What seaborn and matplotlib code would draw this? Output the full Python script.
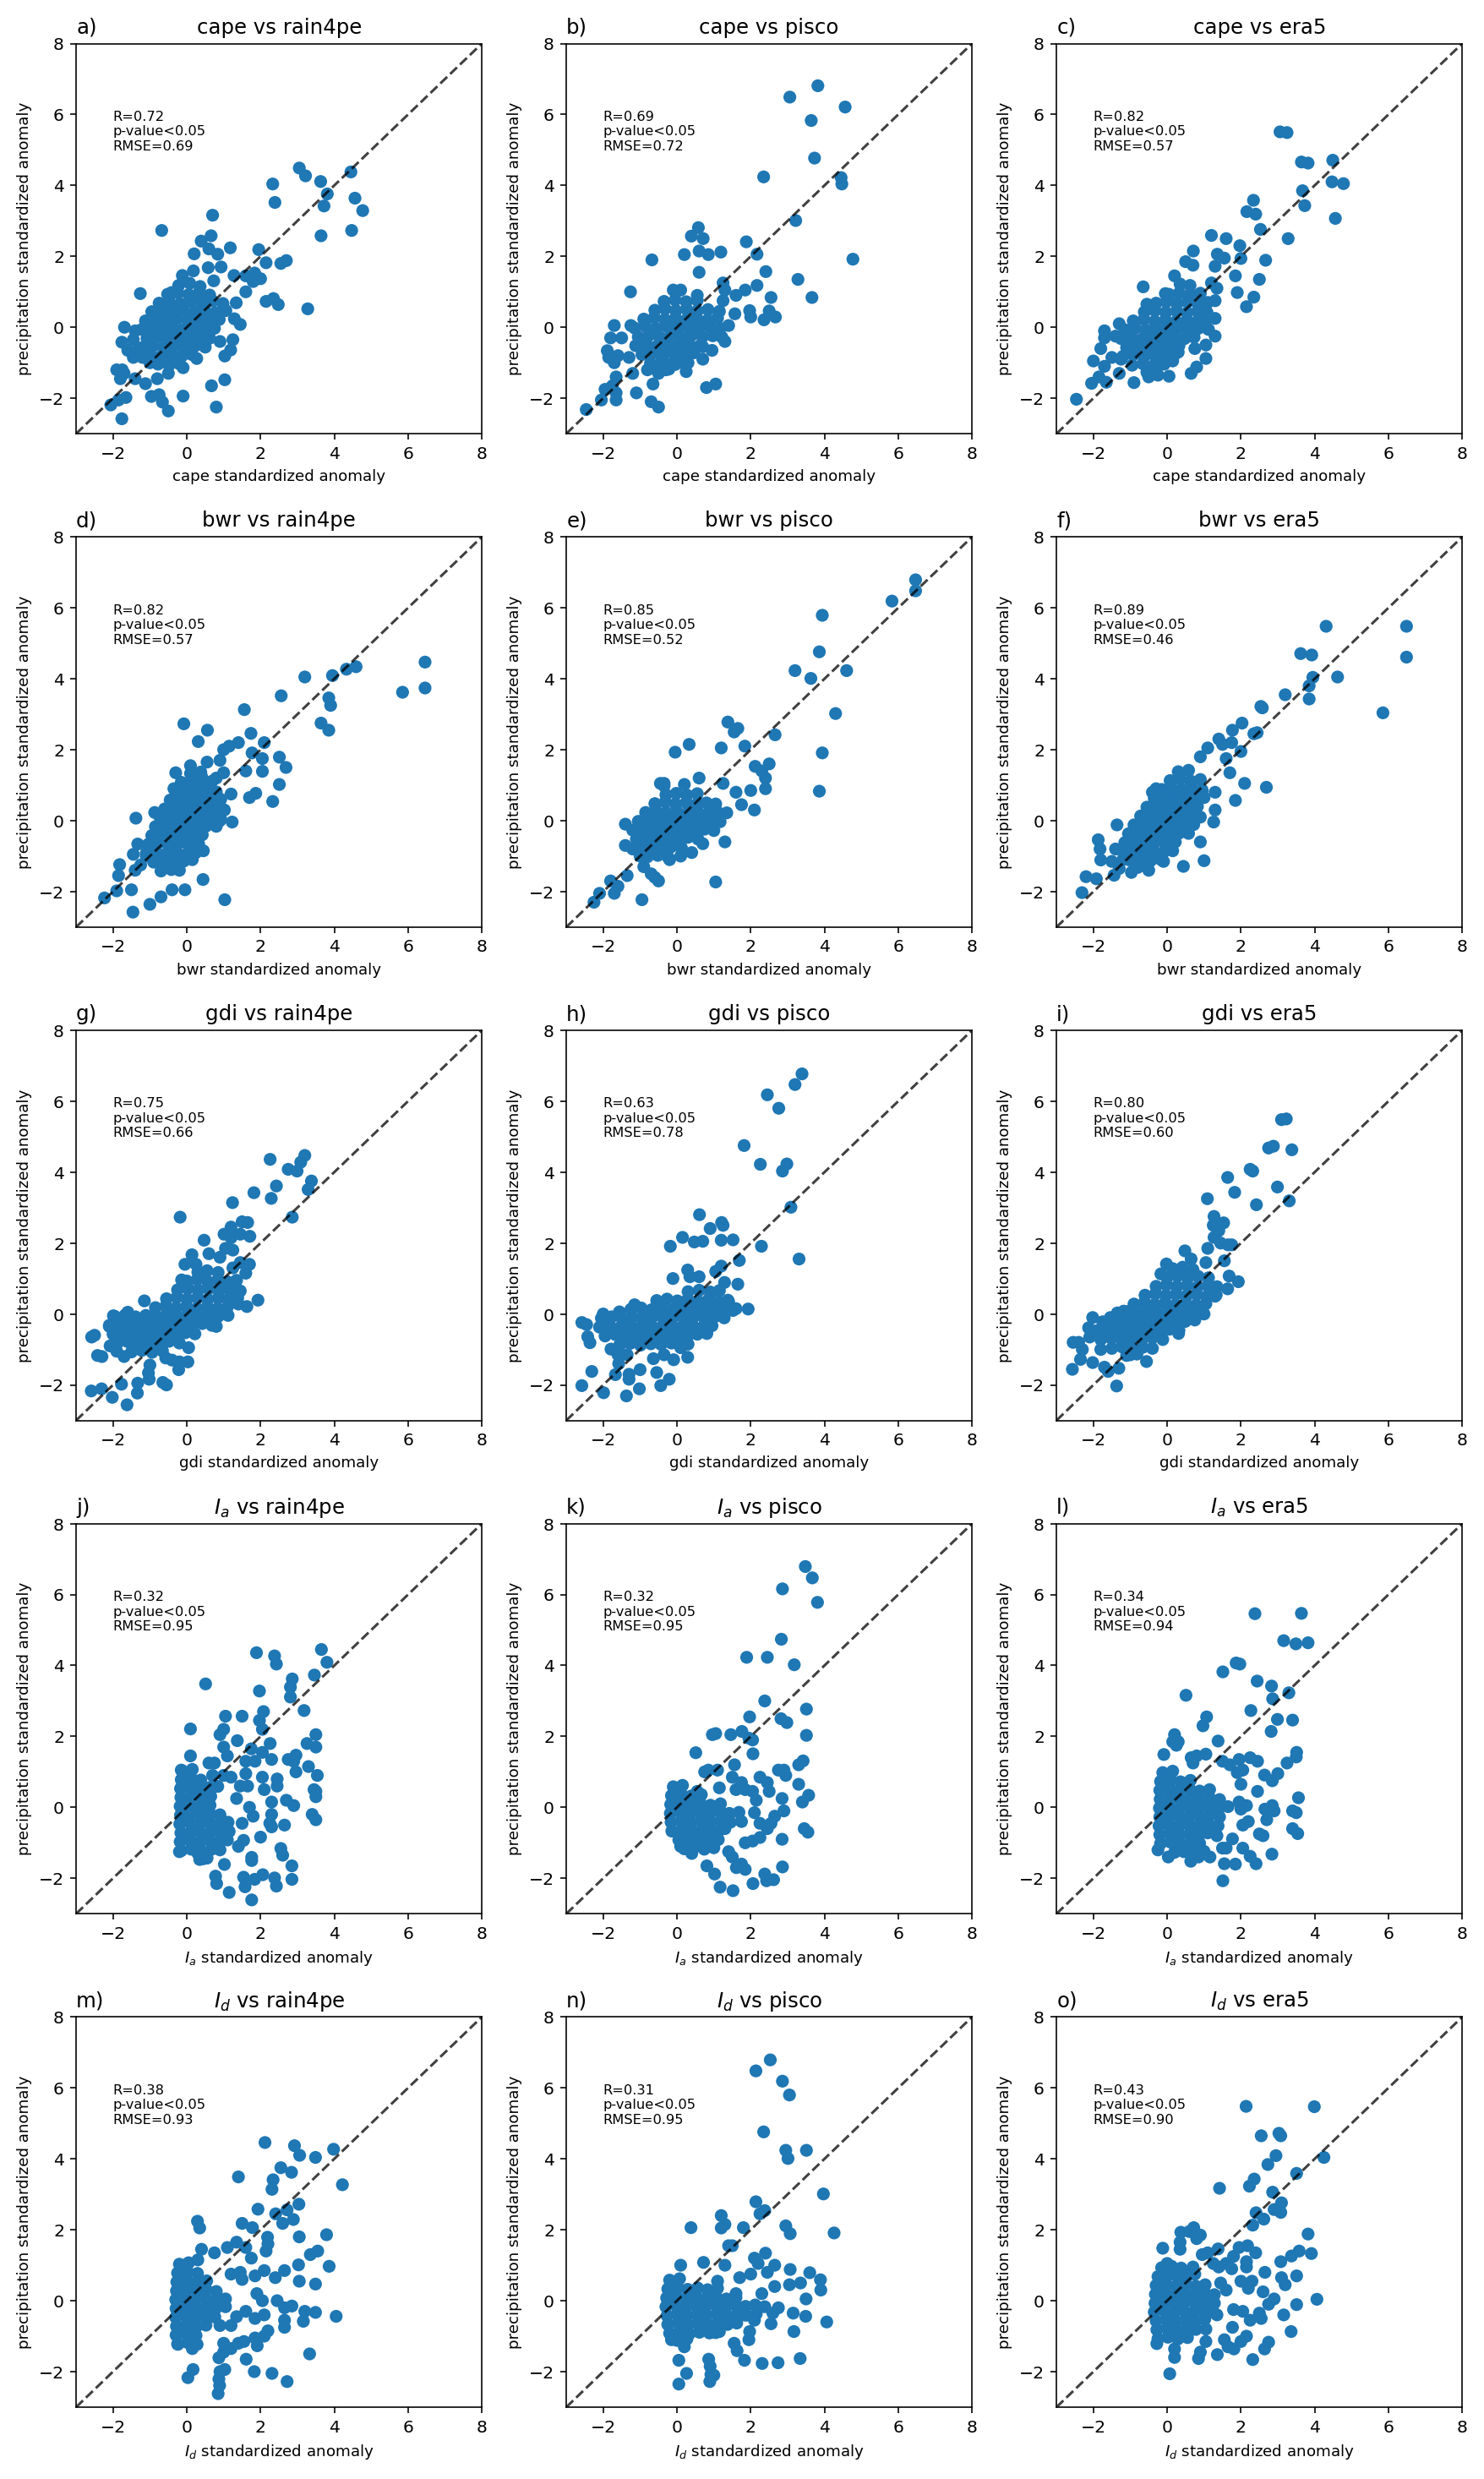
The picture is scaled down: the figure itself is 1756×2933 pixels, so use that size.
import matplotlib
matplotlib.use("Agg")
import matplotlib.pyplot as plt
import seaborn as sns
import pandas as pd

# ---------------- data (x = index anomaly, y = precipitation anomaly)
cape_rain4pe = [
    (3.05, 4.49), (3.22, 4.27), (2.33, 4.04), (2.39, 3.52), (3.63, 4.11), (3.81, 3.76), (3.72, 3.42),
    (4.45, 4.38), (4.56, 3.64), (4.77, 3.29), (4.47, 2.73), (3.64, 2.58), (0.70, 3.16), (-0.68, 2.73),
    (0.66, 2.58), (0.39, 2.43), (0.60, 2.21), (0.84, 2.06), (0.20, 2.07), (1.18, 2.24), (1.95, 2.19),
    (2.15, 1.82), (2.55, 1.80), (2.70, 1.88), (0.93, 1.70), (0.58, 1.68), (0.18, 1.59), (-0.12, 1.46),
    (0.73, 1.31), (1.28, 1.46), (1.60, 1.45), (1.84, 1.53), (1.80, 1.29), (2.00, 1.37), (1.60, 1.00),
    (-1.26, 0.95), (-0.41, 0.98), (2.15, 0.73), (2.35, 0.81), (2.48, 0.64), (3.28, 0.52), (1.34, 0.69),
    (1.45, 0.08), (1.29, 0.24), (1.25, -0.35), (0.90, -0.40), (1.19, -0.64), (1.03, -0.81), (0.27, -0.88),
    (-0.10, -1.14), (1.03, -1.48), (0.67, -1.65), (-0.10, -1.94), (0.80, -2.25), (-0.96, -1.95),
    (-0.75, -1.90), (-0.66, -2.11), (-0.50, -2.36), (-0.50, -1.30), (-0.80, -1.45), (-1.12, -1.59),
    (-1.40, -1.45), (-1.75, -1.20), (-1.90, -1.20), (-1.80, -1.45), (-1.70, -1.30), (-2.06, -2.19),
    (-1.85, -2.05), (-1.65, -1.98), (-1.76, -2.58), (-1.69, 0.00), (-1.40, -0.10), (-1.45, -0.35),
    (-1.76, -0.42), (-1.60, -0.65), (-1.45, -0.85), (-1.20, -0.85), (-1.00, -1.00), (-1.30, -0.60),
    (-0.22, 1.18), (0.08, 1.24), (0.36, 1.15), (-0.52, 0.93), (-0.24, 0.97), (0.05, 0.92), (0.33, 0.98),
    (0.62, 0.91), (-0.75, 0.68), (-0.47, 0.72), (-0.18, 0.66), (0.12, 0.73), (0.41, 0.69), (0.70, 0.74),
    (0.98, 0.67), (-0.95, 0.44), (-0.66, 0.47), (-0.38, 0.42), (-0.09, 0.48), (0.21, 0.43), (0.50, 0.46),
    (0.78, 0.41), (1.06, 0.47), (-1.12, 0.18), (-0.83, 0.22), (-0.55, 0.17), (-0.27, 0.23), (0.03, 0.19),
    (0.32, 0.21), (0.61, 0.16), (0.88, 0.22), (-1.22, -0.06), (-0.95, -0.03), (-0.67, -0.08),
    (-0.38, -0.04), (-0.10, -0.07), (0.18, -0.02), (0.47, -0.06), (0.75, -0.03), (-1.08, -0.31),
    (-0.80, -0.28), (-0.52, -0.33), (-0.23, -0.29), (0.06, -0.32), (0.35, -0.27), (0.62, -0.31),
    (-1.18, -0.56), (-0.92, -0.53), (-0.63, -0.58), (-0.35, -0.54), (-0.06, -0.57), (0.23, -0.52),
    (0.50, -0.56), (-0.98, -0.79), (-0.70, -0.82), (-0.42, -0.78), (-0.13, -0.81), (0.14, -0.77),
    (-0.78, -1.04), (-0.48, -1.07), (-0.20, -1.03),
]

cape_pisco = [
    (3.82, 6.81), (3.06, 6.49), (4.56, 6.21), (3.64, 5.83), (3.73, 4.77), (2.35, 4.24), (4.45, 4.22),
    (4.47, 4.04), (3.22, 3.01), (4.77, 1.92), (3.28, 1.35), (3.66, 0.84), (1.88, 2.41), (2.17, 2.06),
    (2.41, 1.57), (2.17, 1.18), (2.55, 0.84), (2.50, 0.46), (2.36, 0.21), (2.67, 0.29), (1.97, 0.47),
    (2.00, 0.29), (1.57, 0.38), (1.40, 0.05), (1.30, -0.40), (0.58, 2.81), (0.39, 2.57), (0.71, 2.50),
    (0.60, 2.15), (0.85, 2.05), (0.20, 2.05), (1.19, 2.12), (-0.68, 1.90), (0.60, 1.55), (1.25, 1.25),
    (1.30, 1.05), (1.85, 1.05), (1.60, 0.90), (1.25, 0.75), (1.15, 0.45), (-0.10, 1.05), (0.10, 1.05),
    (0.55, 0.90), (-1.26, 1.00), (-1.70, 0.05), (-1.25, 0.05), (-1.80, -0.30), (-1.50, -0.30),
    (-1.89, -0.66), (-1.85, -0.85), (-1.70, -1.00), (-1.60, -0.80), (-1.30, -0.85), (-1.20, -1.30),
    (-1.65, -1.40), (-1.95, -1.75), (-1.75, -1.65), (-1.65, -1.85), (-1.65, -2.05), (-2.05, -2.05),
    (-2.46, -2.32), (-1.10, -1.85), (-0.65, -1.60), (-0.70, -2.10), (-0.50, -2.25), (0.80, -1.70),
    (1.05, -1.60), (0.25, -1.25), (0.30, -1.00), (0.15, -0.80), (0.70, -0.90), (0.70, -0.55),
    (0.95, -0.65), (-0.50, -1.30), (-0.80, -1.20), (-0.30, -1.20), (-0.05, -1.05),
    (-0.35, 0.73), (-0.05, 0.77), (0.25, 0.72), (0.55, 0.76), (-0.60, 0.48), (-0.32, 0.52), (-0.03, 0.47),
    (0.26, 0.51), (0.55, 0.46), (0.84, 0.50), (-0.90, 0.23), (-0.62, 0.27), (-0.33, 0.22), (-0.04, 0.26),
    (0.25, 0.21), (0.54, 0.25), (0.83, 0.20), (1.10, 0.26), (-1.15, -0.02), (-0.86, 0.03), (-0.57, -0.03),
    (-0.28, 0.02), (0.01, -0.01), (0.30, 0.03), (0.59, -0.02), (0.88, 0.02), (1.17, -0.03),
    (-1.05, -0.27), (-0.76, -0.23), (-0.47, -0.28), (-0.18, -0.24), (0.11, -0.26), (0.40, -0.22),
    (0.69, -0.27), (0.97, -0.24), (1.22, -0.28), (-1.12, -0.52), (-0.83, -0.48), (-0.54, -0.53),
    (-0.25, -0.49), (0.04, -0.51), (0.33, -0.47), (0.62, -0.52), (-0.95, -0.77), (-0.66, -0.73),
    (-0.37, -0.78), (-0.08, -0.74), (0.20, -0.76), (0.46, -0.72), (-0.72, -1.02), (-0.43, -0.98),
    (-0.14, -1.03), (0.12, -0.99), (-0.50, -1.22), (-0.22, -1.18),
]

cape_era5 = [
    (3.06, 5.51), (3.25, 5.49), (3.64, 4.66), (3.82, 4.63), (4.49, 4.71), (4.47, 4.10), (4.78, 4.05),
    (3.67, 3.85), (3.73, 3.43), (4.56, 3.07), (3.28, 2.50), (2.34, 3.58), (2.16, 3.26), (2.40, 3.19),
    (2.53, 2.76), (1.20, 2.59), (1.60, 2.50), (1.97, 2.30), (2.00, 1.94), (2.67, 1.89), (1.36, 2.06),
    (1.55, 1.95), (0.71, 2.15), (0.50, 1.85), (0.70, 1.75), (1.30, 1.72), (1.85, 1.45), (2.50, 1.35),
    (1.90, 0.98), (2.35, 0.85), (2.15, 0.58), (1.30, 0.75), (1.35, 1.10), (1.20, 1.25), (0.20, 1.45),
    (-0.65, 1.14), (-0.55, 0.65), (-0.05, 0.95), (1.30, 0.25), (1.30, -0.25), (1.05, -0.50),
    (0.75, -0.60), (1.05, -0.88), (0.80, -1.12), (0.65, -1.30), (0.05, -1.38), (-0.25, -1.35),
    (-0.50, -1.40), (-0.90, -1.56), (-1.30, -1.30), (-1.65, -1.55), (-1.85, -1.40), (-2.05, -1.58),
    (-2.46, -2.03), (-2.00, -0.95), (-1.70, -1.10), (-1.80, -0.60), (-1.70, -0.10), (-1.70, -0.30),
    (-1.30, 0.10), (-1.40, -0.25), (-1.50, -0.85), (-1.25, -0.90), (-0.30, -0.85), (0.15, -0.95),
    (0.30, -0.70),
    (0.35, 1.22), (0.62, 1.18), (0.05, 0.93), (0.33, 0.97), (0.62, 0.92), (0.90, 0.96), (-0.30, 0.68),
    (-0.02, 0.72), (0.27, 0.67), (0.55, 0.71), (0.84, 0.66), (1.10, 0.70), (-0.62, 0.43), (-0.33, 0.47),
    (-0.04, 0.42), (0.25, 0.46), (0.54, 0.41), (0.82, 0.45), (1.08, 0.42), (-0.92, 0.18), (-0.63, 0.22),
    (-0.34, 0.17), (-0.05, 0.21), (0.24, 0.16), (0.53, 0.20), (0.80, 0.15), (1.05, 0.20), (-1.15, -0.07),
    (-0.87, -0.03), (-0.58, -0.08), (-0.29, -0.04), (0.00, -0.06), (0.29, -0.02), (0.57, -0.07),
    (0.85, -0.03), (1.12, -0.06), (-1.25, -0.32), (-0.97, -0.28), (-0.68, -0.33), (-0.39, -0.29),
    (-0.10, -0.31), (0.19, -0.27), (0.47, -0.32), (0.73, -0.28), (-1.10, -0.57), (-0.82, -0.53),
    (-0.53, -0.58), (-0.24, -0.54), (0.05, -0.56), (0.32, -0.52), (-1.20, -0.82), (-0.92, -0.78),
    (-0.63, -0.83), (-0.34, -0.79), (-0.05, -0.81), (0.20, -0.77), (-0.95, -1.07), (-0.66, -1.03),
    (-0.37, -1.08), (-0.08, -1.04), (-0.55, -1.27), (-0.30, -1.22),
]

bwr_rain4pe = [
    (6.46, 4.47), (6.46, 3.74), (5.85, 3.62), (4.59, 4.34), (4.33, 4.27), (3.95, 4.09), (3.20, 4.05),
    (3.85, 3.46), (3.90, 3.25), (3.64, 2.75), (3.85, 2.55), (2.56, 3.52), (1.56, 3.13), (-0.08, 2.73),
    (0.56, 2.55), (0.31, 2.23), (1.74, 2.46), (2.10, 2.20), (1.40, 2.20), (1.15, 2.10), (1.00, 2.00),
    (1.77, 1.91), (2.51, 1.79), (2.69, 1.50), (2.05, 1.75), (2.05, 1.39), (1.60, 1.40), (2.51, 1.02),
    (1.87, 0.77), (1.70, 0.65), (2.33, 0.54), (0.90, 1.70), (0.55, 1.65), (0.10, 1.55), (-0.30, 1.35),
    (0.40, 1.25), (-0.35, 0.90), (-0.87, 0.23), (-1.38, 0.07), (1.23, -0.04), (-1.33, -0.66),
    (-1.45, -0.95), (-1.10, -1.00), (-1.82, -1.24), (-1.85, -1.55), (-1.40, -1.40), (-1.25, -1.25),
    (-0.60, -1.30), (-0.20, -1.40), (-2.23, -2.18), (-1.90, -1.98), (-1.50, -1.95), (-1.46, -2.58),
    (-1.00, -2.36), (-0.70, -2.15), (-0.40, -1.95), (-0.05, -1.95), (0.44, -1.66), (1.03, -2.23),
    (0.50, -0.15), (0.45, -0.85), (0.15, -1.10), (0.90, 0.00), (0.70, 0.70), (0.90, 0.30), (1.20, 0.75),
    (1.00, 1.35), (0.80, 1.20),
    (0.10, 1.33), (0.38, 1.37), (-0.15, 1.08), (0.12, 1.12), (0.40, 1.07), (0.68, 1.11), (-0.30, 0.83),
    (-0.03, 0.87), (0.25, 0.82), (0.52, 0.86), (0.80, 0.81), (-0.45, 0.58), (-0.18, 0.62), (0.10, 0.57),
    (0.37, 0.61), (0.65, 0.56), (0.92, 0.60), (-0.60, 0.33), (-0.33, 0.37), (-0.05, 0.32), (0.22, 0.36),
    (0.50, 0.31), (0.78, 0.35), (1.02, 0.30), (-0.72, 0.08), (-0.45, 0.12), (-0.17, 0.07), (0.10, 0.11),
    (0.38, 0.06), (0.66, 0.10), (0.92, 0.05), (-0.85, -0.17), (-0.57, -0.13), (-0.30, -0.18),
    (-0.02, -0.14), (0.25, -0.19), (0.53, -0.15), (0.80, -0.16), (-0.95, -0.42), (-0.67, -0.38),
    (-0.40, -0.43), (-0.12, -0.39), (0.15, -0.44), (0.42, -0.40), (-1.05, -0.67), (-0.77, -0.63),
    (-0.50, -0.68), (-0.22, -0.64), (0.05, -0.69), (0.32, -0.65), (-1.10, -0.92), (-0.83, -0.88),
    (-0.55, -0.93), (-0.28, -0.89), (0.00, -0.94), (0.25, -0.90), (-0.90, -1.17), (-0.62, -1.13),
    (-0.35, -1.18), (-0.08, -1.14), (-0.70, -1.42), (-0.42, -1.38),
]

bwr_pisco = [
    (6.47, 6.79), (6.47, 6.48), (5.83, 6.19), (3.94, 5.79), (3.86, 4.76), (3.20, 4.23), (3.63, 4.01),
    (4.60, 4.23), (4.30, 3.02), (3.94, 1.91), (3.86, 0.83), (2.66, 2.42), (2.50, 1.60), (2.30, 1.40),
    (2.40, 1.20), (2.12, 1.53), (2.00, 0.85), (2.40, 0.90), (2.10, 0.30), (1.38, 2.78), (1.65, 2.60),
    (1.55, 2.50), (1.84, 2.10), (1.20, 2.05), (0.33, 2.15), (-0.05, 1.93), (0.60, 1.20), (1.25, 1.05),
    (1.60, 0.80), (1.75, 0.45), (-0.35, 1.05), (-0.45, 1.05), (-1.40, -0.10), (-1.40, -0.70),
    (-1.20, -0.80), (-1.00, -1.00), (-0.90, -1.30), (-0.70, -1.50), (-0.50, -1.70), (-0.60, -1.60),
    (-1.35, -1.55), (-1.60, -1.85), (-1.80, -1.70), (-1.70, -2.05), (-2.10, -2.05), (-2.25, -2.30),
    (-0.95, -2.23), (1.05, -1.73), (1.30, -0.60), (0.70, -0.65), (0.40, -0.90), (0.10, -1.00),
    (-0.20, -1.10),
    (-0.35, 0.98), (0.20, 1.02), (-0.30, 0.73), (-0.02, 0.77), (0.27, 0.72), (0.55, 0.76), (-0.60, 0.48),
    (-0.32, 0.52), (-0.04, 0.47), (0.25, 0.51), (0.53, 0.46), (0.80, 0.50), (1.05, 0.47), (-0.85, 0.23),
    (-0.57, 0.27), (-0.29, 0.22), (0.00, 0.26), (0.28, 0.21), (0.56, 0.25), (0.84, 0.20), (1.10, 0.24),
    (1.35, 0.22), (-1.05, -0.02), (-0.77, 0.03), (-0.49, -0.03), (-0.21, 0.02), (0.07, -0.01),
    (0.35, 0.03), (0.63, -0.02), (0.90, 0.02), (1.17, -0.03), (-1.20, -0.27), (-0.92, -0.23),
    (-0.64, -0.28), (-0.36, -0.24), (-0.08, -0.26), (0.20, -0.22), (0.48, -0.27), (0.75, -0.24),
    (1.00, -0.28), (-1.10, -0.52), (-0.82, -0.48), (-0.54, -0.53), (-0.26, -0.49), (0.02, -0.51),
    (0.30, -0.47), (0.57, -0.52), (-1.00, -0.77), (-0.72, -0.73), (-0.44, -0.78), (-0.16, -0.74),
    (0.12, -0.76), (-0.80, -1.02), (-0.52, -0.98), (-0.24, -1.03),
]

bwr_era5 = [
    (6.49, 5.48), (6.49, 4.61), (4.31, 5.48), (3.62, 4.71), (3.92, 4.67), (3.95, 4.04), (4.62, 4.05),
    (3.85, 3.80), (3.85, 3.43), (3.20, 3.55), (2.54, 3.22), (2.58, 3.18), (5.85, 3.04), (2.03, 2.75),
    (1.77, 2.55), (2.44, 2.48), (2.35, 2.45), (1.75, 2.20), (1.10, 2.05), (1.40, 2.30), (1.50, 2.15),
    (2.00, 1.95), (1.60, 1.75), (0.90, 1.80), (1.70, 1.35), (2.10, 1.05), (2.69, 0.94), (1.85, 0.57),
    (1.30, 0.80), (1.30, 0.30), (1.26, -0.04), (0.90, -0.60), (0.50, -0.30), (1.00, -1.13),
    (0.44, -1.29), (-0.10, -1.15), (-0.50, -1.40), (-0.97, -1.46), (-1.44, -1.54), (-1.30, -1.35),
    (-1.92, -1.64), (-2.20, -1.58), (-2.31, -2.03), (-1.80, -1.11), (-1.82, -0.80), (-1.87, -0.54),
    (-1.40, -0.80), (-1.36, -0.12), (-1.50, -1.15), (-1.20, -1.10), (-0.60, -1.20), (-0.30, 0.90),
    (-0.20, 0.65), (-0.40, 0.80),
    (0.30, 1.38), (0.58, 1.42), (0.08, 1.13), (0.35, 1.17), (0.63, 1.12), (0.90, 1.16), (-0.15, 0.88),
    (0.12, 0.92), (0.40, 0.87), (0.67, 0.91), (0.95, 0.86), (-0.35, 0.63), (-0.08, 0.67), (0.20, 0.62),
    (0.47, 0.66), (0.75, 0.61), (1.00, 0.65), (-0.55, 0.38), (-0.28, 0.42), (0.00, 0.37), (0.27, 0.41),
    (0.55, 0.36), (0.82, 0.40), (-0.72, 0.13), (-0.45, 0.17), (-0.17, 0.12), (0.10, 0.16), (0.38, 0.11),
    (0.65, 0.15), (0.90, 0.10), (-0.90, -0.12), (-0.62, -0.08), (-0.35, -0.13), (-0.07, -0.09),
    (0.20, -0.14), (0.48, -0.10), (0.72, -0.11), (-1.05, -0.37), (-0.77, -0.33), (-0.50, -0.38),
    (-0.22, -0.34), (0.05, -0.39), (0.33, -0.35), (0.58, -0.36), (-1.15, -0.62), (-0.87, -0.58),
    (-0.60, -0.63), (-0.32, -0.59), (-0.05, -0.64), (0.22, -0.60), (-1.20, -0.87), (-0.92, -0.83),
    (-0.65, -0.88), (-0.37, -0.84), (-0.10, -0.89), (0.15, -0.85), (-1.00, -1.12), (-0.72, -1.08),
    (-0.45, -1.13), (-0.18, -1.09), (-0.80, -1.32), (-0.55, -1.28),
]

gdi_rain4pe = [
    (2.26, 4.36), (3.20, 4.47), (3.09, 4.28), (2.75, 4.08), (2.99, 4.03), (3.38, 3.75), (3.29, 3.51),
    (2.43, 3.61), (2.29, 3.26), (1.82, 3.42), (1.24, 3.14), (2.86, 2.73), (-0.18, 2.73), (1.20, 2.45),
    (1.50, 2.60), (1.65, 2.58), (1.01, 2.25), (1.45, 2.25), (1.71, 2.19), (1.20, 2.15), (0.47, 2.08),
    (1.05, 1.85), (1.25, 1.80), (0.14, 1.67), (0.60, 1.70), (0.90, 1.60), (-0.05, 1.40), (0.25, 1.40),
    (1.45, 1.45), (1.70, 1.40), (1.60, 1.15), (1.25, 1.30), (0.40, 1.10), (-0.14, 0.96), (1.45, 0.65),
    (1.93, 0.39), (1.63, 0.21), (1.40, 0.28), (-1.15, 0.37), (-1.60, 0.05), (-1.99, -0.05),
    (-2.58, -0.65), (-2.50, -0.60), (-2.42, -1.17), (-2.30, -1.20), (-2.10, -0.35), (-2.08, -0.90),
    (-1.90, -1.05), (-1.70, -1.20), (-1.20, -0.55), (-1.50, -0.80), (-0.80, -0.60), (-0.57, -1.24),
    (-0.40, -1.30), (-0.20, -1.35), (0.03, -1.35), (-0.22, -1.57), (0.05, -0.95), (-1.00, -1.44),
    (-1.04, -1.66), (-1.02, -1.84), (-1.33, -1.95), (-1.34, -2.23), (-1.62, -2.56), (-2.02, -2.35),
    (-1.77, -1.98), (-2.31, -2.11), (-2.59, -2.17), (-0.65, -1.93), (-0.55, -2.00), (0.80, -0.35),
    (0.30, 1.18), (0.55, 1.22), (0.85, 1.17), (0.00, 0.93), (0.28, 0.97), (0.56, 0.92), (0.84, 0.96),
    (1.10, 0.91), (1.35, 0.95), (-0.25, 0.68), (0.03, 0.72), (0.31, 0.67), (0.59, 0.71), (0.87, 0.66),
    (1.14, 0.70), (1.40, 0.66), (-0.55, 0.43), (-0.27, 0.47), (0.01, 0.42), (0.29, 0.46), (0.57, 0.41),
    (0.85, 0.45), (1.12, 0.41), (1.38, 0.45), (-0.85, 0.18), (-0.57, 0.22), (-0.29, 0.17), (-0.01, 0.21),
    (0.27, 0.16), (0.55, 0.20), (0.83, 0.15), (1.10, 0.19), (-1.95, -0.07), (-1.67, -0.03),
    (-1.39, -0.08), (-1.11, -0.04), (-0.83, -0.06), (-0.55, -0.02), (-0.27, -0.07), (0.01, -0.03),
    (0.29, -0.06), (0.57, -0.02), (0.85, -0.07), (1.12, -0.04), (-2.10, -0.32), (-1.82, -0.28),
    (-1.54, -0.33), (-1.26, -0.29), (-0.98, -0.31), (-0.70, -0.27), (-0.42, -0.32), (-0.14, -0.28),
    (0.14, -0.31), (0.42, -0.27), (0.68, -0.32), (-2.00, -0.57), (-1.72, -0.53), (-1.44, -0.58),
    (-1.16, -0.54), (-0.88, -0.56), (-0.60, -0.52), (-0.32, -0.57), (-0.04, -0.53), (0.22, -0.56),
    (-1.88, -0.82), (-1.60, -0.78), (-1.32, -0.83), (-1.04, -0.79), (-0.76, -0.81), (-0.48, -0.77),
    (-0.20, -0.82), (-1.50, -1.07), (-1.22, -1.03), (-0.94, -1.08), (-0.66, -1.04),
]

gdi_pisco = [
    (3.39, 6.77), (3.20, 6.47), (2.45, 6.18), (2.76, 5.80), (1.82, 4.75), (2.26, 4.22), (2.98, 4.23),
    (2.86, 4.03), (3.09, 3.01), (3.31, 1.55), (2.29, 1.91), (0.61, 2.80), (0.90, 2.41), (1.21, 2.58),
    (1.25, 2.50), (-0.18, 1.91), (0.15, 2.16), (0.47, 2.03), (0.70, 2.05), (1.20, 2.08), (1.52, 2.09),
    (1.69, 1.51), (1.20, 1.35), (1.05, 1.20), (0.29, 1.24), (0.35, 1.05), (0.60, 1.05), (-0.11, 1.00),
    (1.29, 0.89), (1.65, 0.84), (1.93, 0.14), (1.60, 0.15), (1.40, 0.35), (-1.15, 0.26), (-1.56, 0.06),
    (-2.00, 0.00), (-2.58, -0.24), (-2.45, -0.30), (-2.42, -0.64), (-2.36, -0.81), (-2.31, -1.62),
    (-2.58, -2.02), (-1.99, -2.22), (-1.37, -2.31), (-1.30, -1.84), (-1.30, -1.70), (-1.67, -1.71),
    (-1.58, -1.40), (-1.79, -0.99), (-1.60, -1.15), (-1.35, -1.15), (-1.00, -1.57), (-1.02, -2.11),
    (-0.55, -1.65), (-0.44, -2.02), (-0.21, -1.84), (-0.64, -1.26), (-0.09, -1.29), (0.29, -1.22),
    (0.10, -0.95), (0.30, -0.85), (0.81, -0.55), (-0.35, -1.15),
    (0.30, 0.63), (0.60, 0.67), (0.90, 0.62), (1.15, 0.66), (-0.55, 0.38), (-0.27, 0.42), (0.01, 0.37),
    (0.29, 0.41), (0.57, 0.36), (0.85, 0.40), (1.12, 0.35), (1.38, 0.39), (-1.25, 0.13), (-0.97, 0.17),
    (-0.69, 0.12), (-0.41, 0.16), (-0.13, 0.11), (0.15, 0.15), (0.43, 0.10), (0.71, 0.14), (0.99, 0.09),
    (1.26, 0.13), (1.52, 0.10), (-2.05, -0.12), (-1.77, -0.08), (-1.49, -0.13), (-1.21, -0.09),
    (-0.93, -0.11), (-0.65, -0.07), (-0.37, -0.12), (-0.09, -0.08), (0.19, -0.11), (0.47, -0.07),
    (0.75, -0.12), (1.02, -0.08), (1.28, -0.11), (-2.10, -0.37), (-1.82, -0.33), (-1.54, -0.38),
    (-1.26, -0.34), (-0.98, -0.36), (-0.70, -0.32), (-0.42, -0.37), (-0.14, -0.33), (0.14, -0.36),
    (0.42, -0.32), (0.70, -0.37), (0.95, -0.33), (-1.95, -0.62), (-1.67, -0.58), (-1.39, -0.63),
    (-1.11, -0.59), (-0.83, -0.61), (-0.55, -0.57), (-0.27, -0.62), (0.01, -0.58), (0.29, -0.61),
    (0.55, -0.57), (-1.55, -0.87), (-1.27, -0.83), (-0.99, -0.88), (-0.71, -0.84), (-0.43, -0.86),
    (-0.15, -0.82), (0.12, -0.87),
]

gdi_era5 = [
    (3.10, 5.48), (3.23, 5.50), (2.75, 4.68), (2.88, 4.73), (3.38, 4.63), (2.25, 4.08), (2.32, 4.03),
    (1.64, 3.85), (1.83, 3.43), (2.99, 3.58), (3.31, 3.19), (2.42, 3.08), (1.09, 3.25), (1.27, 2.75),
    (1.53, 2.57), (1.25, 2.50), (1.27, 2.16), (1.40, 2.35), (1.45, 2.00), (1.65, 1.95), (1.75, 1.95),
    (1.10, 1.85), (0.48, 1.78), (0.65, 1.55), (-0.02, 1.41), (-0.17, 1.13), (0.15, 1.15), (0.35, 1.25),
    (0.70, 1.25), (1.05, 1.45), (1.55, 1.50), (1.68, 1.07), (1.93, 0.91), (1.64, 0.71), (1.30, 0.50),
    (1.00, 0.00), (0.31, -0.55), (-0.56, -1.34), (-0.15, -0.50), (-1.00, -1.15), (-1.31, -1.53),
    (-1.60, -1.62), (-1.70, -1.50), (-1.37, -2.03), (-2.02, -1.37), (-2.57, -1.56), (-2.35, -1.28),
    (-2.55, -0.80), (-2.40, -0.80), (-2.30, -1.00), (-2.13, -0.39), (-2.02, -0.10), (-2.10, -0.65),
    (-1.54, -0.10), (-1.18, 0.08), (-1.80, -1.00), (-1.10, -0.90),
    (0.15, 1.28), (0.42, 1.32), (0.00, 1.03), (0.28, 1.07), (0.56, 1.02), (0.84, 1.06), (1.12, 1.02),
    (-0.30, 0.78), (-0.02, 0.82), (0.26, 0.77), (0.54, 0.81), (0.82, 0.76), (1.10, 0.80), (1.35, 0.77),
    (-0.60, 0.53), (-0.32, 0.57), (-0.04, 0.52), (0.24, 0.56), (0.52, 0.51), (0.80, 0.55), (1.08, 0.50),
    (1.33, 0.54), (-0.90, 0.28), (-0.62, 0.32), (-0.34, 0.27), (-0.06, 0.31), (0.22, 0.26), (0.50, 0.30),
    (0.78, 0.25), (1.05, 0.29), (-1.35, 0.03), (-1.07, 0.07), (-0.79, 0.02), (-0.51, 0.06), (-0.23, 0.01),
    (0.05, 0.05), (0.33, 0.00), (0.61, 0.04), (0.88, 0.01), (-1.75, -0.22), (-1.47, -0.18), (-1.19, -0.23),
    (-0.91, -0.19), (-0.63, -0.21), (-0.35, -0.17), (-0.07, -0.22), (0.21, -0.18), (0.49, -0.21),
    (0.75, -0.17), (-1.90, -0.47), (-1.62, -0.43), (-1.34, -0.48), (-1.06, -0.44), (-0.78, -0.46),
    (-0.50, -0.42), (-0.22, -0.47), (0.06, -0.43), (0.32, -0.46), (-1.80, -0.72), (-1.52, -0.68),
    (-1.24, -0.73), (-0.96, -0.69), (-0.68, -0.71), (-0.40, -0.67), (-0.12, -0.72), (-1.50, -0.97),
    (-1.22, -0.93), (-0.94, -0.98), (-0.66, -0.94), (-0.40, -0.97), (-1.10, -1.17), (-0.82, -1.13),
]

ia_rain4pe = [
    (3.65, 4.45), (3.80, 4.09), (1.89, 4.36), (2.38, 4.27), (2.43, 4.04), (3.46, 3.73), (2.86, 3.62),
    (2.81, 3.39), (2.81, 3.11), (1.97, 3.28), (0.51, 3.48), (3.18, 2.73), (2.08, 2.70), (1.97, 2.45),
    (2.05, 2.20), (1.05, 2.57), (1.50, 2.57), (1.00, 2.20), (0.90, 2.05), (0.10, 2.21), (1.37, 1.88),
    (1.00, 1.70), (1.10, 1.45), (1.75, 1.65), (2.26, 1.80), (2.05, 1.55), (2.30, 1.35), (1.60, 1.30),
    (1.85, 1.30), (3.26, 1.80), (3.50, 2.05), (3.50, 1.70), (2.75, 1.35), (2.96, 1.47), (2.90, 1.30),
    (2.96, 1.00), (3.30, 1.15), (3.54, 0.90), (3.45, 0.50), (3.50, 0.30), (3.50, 0.45), (2.70, 0.20),
    (2.90, 0.05), (3.40, -0.20), (3.50, -0.35), (2.65, -0.50), (2.45, 0.80), (2.45, 0.60), (2.05, 0.85),
    (2.10, 0.50), (2.30, 0.15), (2.30, -0.20), (2.30, -0.55), (2.25, -0.45), (2.00, -0.84), (1.60, 0.95),
    (1.45, 0.60), (1.65, 0.60), (1.35, 0.25), (1.70, 0.00), (1.80, -0.25), (1.50, -0.45), (1.20, 0.85),
    (1.00, 0.90), (0.84, 0.59), (0.70, 0.90), (0.75, 1.25), (0.60, 1.25), (0.10, 1.45), (-0.15, 1.05),
    (1.54, -0.93), (1.40, -1.10), (2.55, -1.16), (2.60, -1.35), (2.85, -1.65), (2.85, -2.03),
    (2.38, -1.99), (2.43, -2.22), (2.06, -1.90), (1.84, -2.03), (1.76, -1.41), (1.76, -1.50),
    (1.54, -1.97), (1.58, -2.24), (1.76, -2.61), (1.15, -2.40), (0.78, -1.94), (0.81, -2.15),
    (1.02, -1.61), (0.45, -1.45), (0.85, -1.15), (0.30, -1.30), (-0.20, -1.25),
    (-0.12, 1.03), (0.15, 1.07), (-0.15, 0.78), (0.12, 0.82), (0.38, 0.77), (-0.17, 0.53), (0.10, 0.57),
    (0.37, 0.52), (0.62, 0.56), (-0.16, 0.28), (0.11, 0.32), (0.38, 0.27), (0.65, 0.31), (-0.18, 0.03),
    (0.09, 0.07), (0.36, 0.02), (0.63, 0.06), (-0.17, -0.22), (0.10, -0.18), (0.37, -0.23), (0.64, -0.19),
    (0.90, -0.21), (-0.19, -0.47), (0.08, -0.43), (0.35, -0.48), (0.62, -0.44), (0.89, -0.46),
    (1.12, -0.42), (-0.16, -0.72), (0.11, -0.68), (0.38, -0.73), (0.65, -0.69), (0.92, -0.71),
    (1.15, -0.68), (-0.18, -0.97), (0.09, -0.93), (0.36, -0.98), (0.63, -0.94), (0.90, -0.96),
    (1.10, -0.92), (-0.15, -1.22), (0.12, -1.18), (0.39, -1.23), (0.66, -1.19), (0.90, -1.20),
    (0.35, -1.47), (0.55, -1.43),
]

ia_pisco = [
    (3.48, 6.79), (3.67, 6.47), (2.86, 6.16), (3.81, 5.78), (2.83, 4.74), (1.89, 4.23), (2.45, 4.23),
    (3.18, 4.02), (2.38, 3.00), (3.51, 2.77), (2.82, 2.50), (2.98, 2.39), (1.97, 2.55), (3.51, 2.03),
    (0.96, 2.05), (1.05, 2.08), (1.46, 2.05), (1.76, 2.14), (1.95, 1.95), (2.05, 1.90), (2.06, 1.51),
    (0.51, 1.54), (1.56, 1.20), (0.75, 1.00), (0.85, 1.05), (1.10, 1.05), (3.42, 1.31), (3.30, 1.20),
    (2.75, 1.05), (2.90, 1.05), (2.95, 0.90), (3.30, 0.65), (3.57, 0.34), (3.40, 0.15), (2.85, 0.25),
    (2.90, -0.10), (2.65, -0.25), (2.55, -0.45), (2.45, -0.60), (3.45, -0.60), (3.55, -0.70),
    (2.85, -0.90), (2.25, 0.85), (2.45, 0.70), (2.50, 0.45), (2.05, 0.45), (2.15, 0.20), (2.10, -0.15),
    (2.25, -0.45), (1.50, 0.85), (1.75, 0.70), (1.85, 0.50), (1.60, 0.50), (1.75, -0.40), (1.85, -1.00),
    (2.05, -0.95), (2.25, -0.85), (1.40, -1.25), (1.50, -1.40), (1.61, -1.70), (1.75, -1.60),
    (1.85, -1.75), (2.38, -1.88), (2.43, -2.07), (2.62, -2.04), (2.86, -1.68), (2.06, -2.15),
    (1.52, -2.35), (1.17, -2.25), (1.02, -1.88), (0.81, -1.65), (0.40, -1.30), (0.10, -1.10),
    (1.00, -1.00), (1.30, -0.60), (1.15, 0.55), (0.55, 0.45),
    (-0.10, 0.58), (0.15, 0.62), (-0.15, 0.33), (0.12, 0.37), (0.39, 0.32), (0.66, 0.36), (-0.17, 0.08),
    (0.10, 0.12), (0.37, 0.07), (0.64, 0.11), (0.91, 0.06), (1.18, 0.10), (-0.18, -0.17), (0.09, -0.13),
    (0.36, -0.18), (0.63, -0.14), (0.90, -0.16), (1.17, -0.12), (1.42, -0.17), (1.68, -0.14),
    (-0.16, -0.42), (0.11, -0.38), (0.38, -0.43), (0.65, -0.39), (0.92, -0.41), (1.19, -0.37),
    (1.45, -0.42), (-0.14, -0.67), (0.13, -0.63), (0.40, -0.68), (0.67, -0.64), (0.94, -0.66),
    (1.20, -0.62), (0.05, -0.92), (0.32, -0.88), (0.59, -0.93), (0.86, -0.89), (1.12, -0.91),
    (0.20, -1.17), (0.47, -1.13), (0.74, -1.18), (1.00, -1.14),
]

ia_era5 = [
    (2.38, 5.46), (3.64, 5.47), (3.16, 4.70), (3.49, 4.61), (3.82, 4.64), (1.87, 4.07), (1.97, 4.04),
    (1.51, 3.82), (2.44, 3.56), (2.83, 3.42), (3.30, 3.23), (2.86, 3.06), (0.51, 3.16), (2.27, 2.73),
    (2.99, 2.48), (3.40, 2.46), (2.82, 2.14), (1.07, 2.55), (0.97, 2.30), (0.20, 2.05), (0.15, 1.85),
    (0.30, 1.85), (0.25, 1.75), (1.38, 1.87), (-0.09, 1.49), (0.65, 1.40), (0.80, 1.45), (1.05, 1.50),
    (0.70, 1.25), (1.50, 1.30), (1.70, 1.20), (1.95, 1.35), (2.25, 1.40), (2.45, 1.30), (2.05, 1.05),
    (1.90, 0.98), (3.51, 1.55), (3.50, 1.42), (3.25, 1.25), (2.64, 0.91), (2.85, 0.75), (3.00, 0.95),
    (2.00, 0.65), (2.45, 0.45), (3.56, 0.27), (1.95, 0.15), (2.15, 0.05), (2.00, -0.05), (2.85, 0.05),
    (2.65, -0.05), (2.90, -0.10), (3.40, -0.10), (3.50, -0.15), (2.70, -0.35), (2.20, -0.40),
    (2.05, -0.50), (3.40, -0.60), (3.54, -0.74), (2.50, -0.75), (2.60, -0.80), (1.77, -0.89),
    (1.35, -0.80), (1.50, -1.15), (1.60, -1.15), (2.05, -1.15), (2.25, -1.38), (2.41, -1.59),
    (2.84, -1.32), (1.55, -1.59), (1.85, -1.60), (1.51, -2.07), (1.16, -1.40), (0.64, -1.52),
    (0.03, -1.40), (-0.25, -1.20), (0.85, -1.40), (0.45, -1.25),
    (-0.12, 0.98), (0.15, 1.02), (-0.18, 0.73), (0.09, 0.77), (0.36, 0.72), (0.63, 0.76), (-0.20, 0.48),
    (0.07, 0.52), (0.34, 0.47), (0.61, 0.51), (0.88, 0.46), (1.15, 0.50), (-0.19, 0.23), (0.08, 0.27),
    (0.35, 0.22), (0.62, 0.26), (0.89, 0.21), (1.16, 0.25), (1.42, 0.22), (-0.21, -0.02), (0.06, 0.02),
    (0.33, -0.03), (0.60, 0.01), (0.87, -0.01), (1.14, 0.03), (1.40, -0.02), (1.65, 0.02),
    (-0.20, -0.27), (0.07, -0.23), (0.34, -0.28), (0.61, -0.24), (0.88, -0.26), (1.15, -0.22),
    (1.42, -0.27), (-0.22, -0.52), (0.05, -0.48), (0.32, -0.53), (0.59, -0.49), (0.86, -0.51),
    (1.12, -0.47), (1.38, -0.52), (-0.20, -0.77), (0.07, -0.73), (0.34, -0.78), (0.61, -0.74),
    (0.88, -0.76), (1.10, -0.72), (-0.18, -1.02), (0.09, -0.98), (0.36, -1.03), (0.63, -0.99),
    (0.88, -1.01), (0.20, -1.27), (0.47, -1.23), (0.74, -1.28), (1.00, -1.24),
]

id_rain4pe = [
    (2.12, 4.46), (2.92, 4.37), (3.06, 4.10), (3.49, 4.04), (3.98, 4.27), (4.22, 3.27), (2.55, 3.75),
    (2.84, 3.62), (1.40, 3.49), (2.34, 3.41), (2.31, 3.14), (3.04, 2.72), (1.93, 2.58), (2.41, 2.45),
    (2.72, 2.56), (2.89, 2.29), (2.60, 2.18), (0.29, 2.24), (0.35, 2.05), (1.50, 2.18), (1.78, 2.06),
    (2.19, 1.79), (2.20, 1.60), (3.79, 1.86), (3.05, 1.80), (0.40, 1.45), (1.35, 1.65), (1.10, 1.50),
    (1.60, 1.50), (1.75, 1.20), (2.15, 1.40), (0.75, 1.35), (0.30, 1.15), (3.35, 1.30), (3.55, 1.40),
    (3.03, 1.01), (3.86, 0.97), (2.65, 0.85), (3.05, 0.55), (3.49, 0.47), (2.40, 0.65), (2.10, 0.85),
    (1.85, 0.70), (1.45, 0.80), (1.20, 0.75), (1.50, 0.60), (1.90, 0.20), (2.05, 0.00), (2.45, 0.00),
    (2.65, -0.20), (2.85, -0.15), (3.20, -0.30), (3.49, -0.33), (4.05, -0.44), (3.16, -0.58),
    (2.65, -0.55), (2.65, -0.75), (2.10, -0.40), (1.85, -0.50), (1.60, -0.30), (1.35, -0.45),
    (1.20, -0.70), (0.90, -0.70), (2.20, -0.85), (2.10, -1.00), (1.85, -1.05), (1.91, -1.27),
    (1.55, -1.15), (1.40, -1.20), (1.20, -1.35), (1.00, -1.20), (1.00, -1.45), (0.87, -1.61),
    (1.61, -1.65), (3.33, -1.50), (1.83, -2.00), (2.31, -2.05), (2.72, -2.28), (1.03, -1.94),
    (0.90, -2.00), (0.87, -2.21), (0.89, -2.39), (0.85, -2.62), (0.17, -1.94), (0.03, -2.17),
    (-0.24, -1.23), (0.15, -1.35),
    (-0.20, 1.03), (0.05, 1.07), (-0.25, 0.78), (0.02, 0.82), (0.29, 0.77), (-0.27, 0.53), (0.00, 0.57),
    (0.27, 0.52), (0.54, 0.56), (-0.28, 0.28), (-0.01, 0.32), (0.26, 0.27), (0.53, 0.31), (0.80, 0.26),
    (-0.30, 0.03), (-0.03, 0.07), (0.24, 0.02), (0.51, 0.06), (0.78, 0.01), (1.05, 0.05), (-0.29, -0.22),
    (-0.02, -0.18), (0.25, -0.23), (0.52, -0.19), (0.79, -0.21), (1.05, -0.17), (-0.30, -0.47),
    (-0.03, -0.43), (0.24, -0.48), (0.51, -0.44), (0.76, -0.46), (-0.28, -0.72), (-0.01, -0.68),
    (0.26, -0.73), (0.52, -0.69), (-0.29, -0.97), (-0.02, -0.93), (0.25, -0.98), (-0.25, -1.22),
    (0.02, -1.18), (0.28, -1.23),
]

id_pisco = [
    (2.53, 6.79), (2.14, 6.48), (2.86, 6.19), (3.05, 5.80), (2.35, 4.76), (2.95, 4.24), (3.01, 4.01),
    (3.51, 4.24), (3.97, 3.01), (4.26, 1.91), (2.14, 2.79), (2.38, 2.54), (2.25, 2.45), (2.95, 2.11),
    (3.07, 1.89), (1.20, 2.40), (1.30, 2.15), (1.20, 2.05), (1.80, 2.06), (0.38, 2.06), (1.40, 1.55),
    (1.50, 1.55), (2.40, 1.34), (2.10, 1.20), (2.20, 1.05), (0.72, 1.08), (0.10, 1.00), (1.30, 1.00),
    (2.65, 1.00), (2.45, 0.80), (3.07, 0.88), (3.60, 0.79), (3.89, 0.59), (3.90, 0.30), (3.05, 0.45),
    (3.35, 0.50), (3.50, 0.05), (2.65, 0.40), (2.30, 0.20), (1.70, 0.65), (2.00, 0.75), (1.10, 0.55),
    (1.60, 0.20), (3.15, -0.35), (2.75, -0.20), (3.49, -0.44), (2.55, -0.65), (2.60, -0.35),
    (4.06, -0.60), (3.17, -0.87), (2.10, -0.55), (1.80, -0.40), (1.35, -0.55), (1.05, -0.70),
    (1.05, -0.90), (1.97, -0.87), (1.95, -1.10), (1.55, -1.20), (1.63, -1.41), (1.83, -1.68),
    (2.31, -1.77), (2.74, -1.75), (3.34, -1.63), (0.05, -1.68), (0.26, -2.05), (0.05, -2.35),
    (0.86, -1.65), (0.90, -1.85), (0.92, -2.08), (0.89, -2.28), (1.00, -2.10), (-0.15, -1.10),
    (0.20, -1.30),
    (-0.20, 0.58), (0.07, 0.62), (-0.25, 0.33), (0.02, 0.37), (0.29, 0.32), (0.56, 0.36), (0.83, 0.31),
    (1.10, 0.35), (-0.28, 0.08), (-0.01, 0.12), (0.26, 0.07), (0.53, 0.11), (0.80, 0.06), (1.07, 0.10),
    (1.34, 0.05), (1.60, 0.09), (-0.30, -0.17), (-0.03, -0.13), (0.24, -0.18), (0.51, -0.14),
    (0.78, -0.16), (1.05, -0.12), (1.32, -0.17), (1.59, -0.13), (1.86, -0.16), (2.12, -0.12),
    (2.38, -0.17), (-0.27, -0.42), (0.00, -0.38), (0.27, -0.43), (0.54, -0.39), (0.81, -0.41),
    (1.08, -0.37), (1.35, -0.42), (1.62, -0.38), (1.88, -0.41), (2.15, -0.37), (-0.25, -0.67),
    (0.02, -0.63), (0.29, -0.68), (0.56, -0.64), (0.83, -0.66), (1.10, -0.62), (1.37, -0.67),
    (1.62, -0.63), (-0.20, -0.92), (0.07, -0.88), (0.34, -0.93), (0.61, -0.89), (0.88, -0.91),
    (1.15, -0.87), (0.00, -1.12), (0.27, -1.08),
]

id_era5 = [
    (2.14, 5.48), (3.99, 5.47), (2.55, 4.65), (3.03, 4.72), (3.08, 4.65), (2.95, 4.09), (4.25, 4.04),
    (2.73, 3.84), (3.51, 3.59), (2.36, 3.43), (2.23, 3.23), (1.42, 3.17), (2.86, 3.06), (3.10, 2.76),
    (2.90, 2.57), (3.08, 2.49), (2.41, 2.48), (2.32, 2.13), (2.62, 2.30), (3.82, 1.88), (3.91, 1.33),
    (3.58, 1.40), (3.37, 1.26), (3.08, 1.10), (3.10, 0.65), (3.20, 0.45), (3.51, 0.70), (4.06, 0.04),
    (3.51, -0.11), (2.90, 0.05), (2.75, -0.10), (3.16, -0.40), (3.36, -0.87), (2.65, 0.80), (2.40, 1.35),
    (2.60, 0.25), (2.50, -0.35), (2.55, -0.50), (2.30, 0.55), (2.20, 0.35), (2.15, 1.10), (2.15, 0.95),
    (2.18, 1.55), (1.95, 1.50), (1.80, 1.25), (2.00, 0.55), (2.25, -0.55), (2.05, -0.30), (1.80, -0.25),
    (1.60, 0.30), (1.45, 0.50), (1.75, 0.90), (1.60, 1.05), (1.38, 1.46), (1.10, 1.35), (0.95, 1.30),
    (1.40, 0.95), (1.25, 1.05), (0.72, 2.06), (0.60, 1.95), (0.37, 1.93), (0.90, 1.85), (0.80, 1.75),
    (0.35, 1.65), (0.35, 1.45), (-0.12, 1.48), (0.00, 1.05), (0.70, 0.95), (0.75, 0.75), (1.77, -0.75),
    (1.35, -0.40), (1.05, -0.80), (1.55, -1.10), (1.81, -1.36), (1.65, -1.30), (2.00, -1.15),
    (2.15, -1.00), (2.75, -1.17), (2.64, -1.36), (2.32, -1.66), (1.36, -1.52), (1.05, -1.15),
    (0.85, -1.63), (0.90, -1.45), (0.20, -1.36), (0.20, -1.60), (0.07, -2.06), (-0.28, -1.21),
    (0.40, -0.90), (0.60, -0.85),
    (-0.15, 0.93), (0.12, 0.97), (0.38, 0.92), (-0.25, 0.68), (0.02, 0.72), (0.29, 0.67), (0.56, 0.71),
    (-0.30, 0.43), (-0.03, 0.47), (0.24, 0.42), (0.51, 0.46), (0.78, 0.41), (1.03, 0.45), (-0.32, 0.18),
    (-0.05, 0.22), (0.22, 0.17), (0.49, 0.21), (0.76, 0.16), (1.03, 0.20), (1.28, 0.17), (-0.33, -0.07),
    (-0.06, -0.03), (0.21, -0.08), (0.48, -0.04), (0.75, -0.06), (1.02, -0.02), (1.28, -0.07),
    (-0.35, -0.32), (-0.08, -0.28), (0.19, -0.33), (0.46, -0.29), (0.73, -0.31), (1.00, -0.27),
    (1.25, -0.32), (-0.30, -0.57), (-0.03, -0.53), (0.24, -0.58), (0.51, -0.54), (0.78, -0.56),
    (1.02, -0.52), (-0.28, -0.82), (-0.01, -0.78), (0.26, -0.83), (0.53, -0.79), (0.78, -0.81),
    (-0.25, -1.07), (0.02, -1.03), (0.29, -1.08), (0.55, -1.04),
]

# panel metadata
panel_letters = ["a)", "b)", "c)", "d)", "e)", "f)", "g)", "h)", "i)", "j)", "k)", "l)", "m)", "n)", "o)"]
predictors = ["cape", "bwr", "gdi", "$I_a$", "$I_d$"]
products = ["rain4pe", "pisco", "era5"]
r_values = ["0.72", "0.69", "0.82", "0.82", "0.85", "0.89", "0.75", "0.63", "0.80",
            "0.32", "0.32", "0.34", "0.38", "0.31", "0.43"]
rmse_values = ["0.69", "0.72", "0.57", "0.57", "0.52", "0.46", "0.66", "0.78", "0.60",
               "0.95", "0.95", "0.94", "0.93", "0.95", "0.90"]
panel_points = [cape_rain4pe, cape_pisco, cape_era5,
                bwr_rain4pe, bwr_pisco, bwr_era5,
                gdi_rain4pe, gdi_pisco, gdi_era5,
                ia_rain4pe, ia_pisco, ia_era5,
                id_rain4pe, id_pisco, id_era5]

# ---------------- figure
DPI = 146.33
fig, axes = plt.subplots(5, 3, figsize=(1756.4 / DPI, 2933.4 / DPI), dpi=DPI)
fig.subplots_adjust(left=0.0513, right=0.9851, top=0.9823, bottom=0.029,
                    wspace=0.2083, hspace=0.2646)

for i, ax in enumerate(axes.flat):
    pred = predictors[i // 3]
    prod = products[i % 3]
    df = pd.DataFrame(panel_points[i], columns=["x", "y"])
    sns.scatterplot(data=df, x="x", y="y", ax=ax, s=56, color="#1f77b4",
                    linewidth=0, edgecolor="none", legend=False)
    ax.axline((0, 0), slope=1, color="k", alpha=0.75, ls="--", lw=1.5)
    ax.set_xlim(-3, 8)
    ax.set_ylim(-3, 8)
    ax.set_xticks([-2, 0, 2, 4, 6, 8])
    ax.set_yticks([-2, 0, 2, 4, 6, 8])
    ax.tick_params(labelsize=10)
    ax.set_title(f"{pred} vs {prod}", fontsize=12)
    ax.set_title(panel_letters[i], loc="left", fontsize=12)
    ax.set_xlabel(f"{pred} standardized anomaly", fontsize=9)
    ax.set_ylabel("precipitation standardized anomaly", fontsize=9)
    ax.text(-2, 5, f"R={r_values[i]}\np-value<0.05\nRMSE={rmse_values[i]}", fontsize=8)

fig.savefig("out.png", dpi=DPI)
